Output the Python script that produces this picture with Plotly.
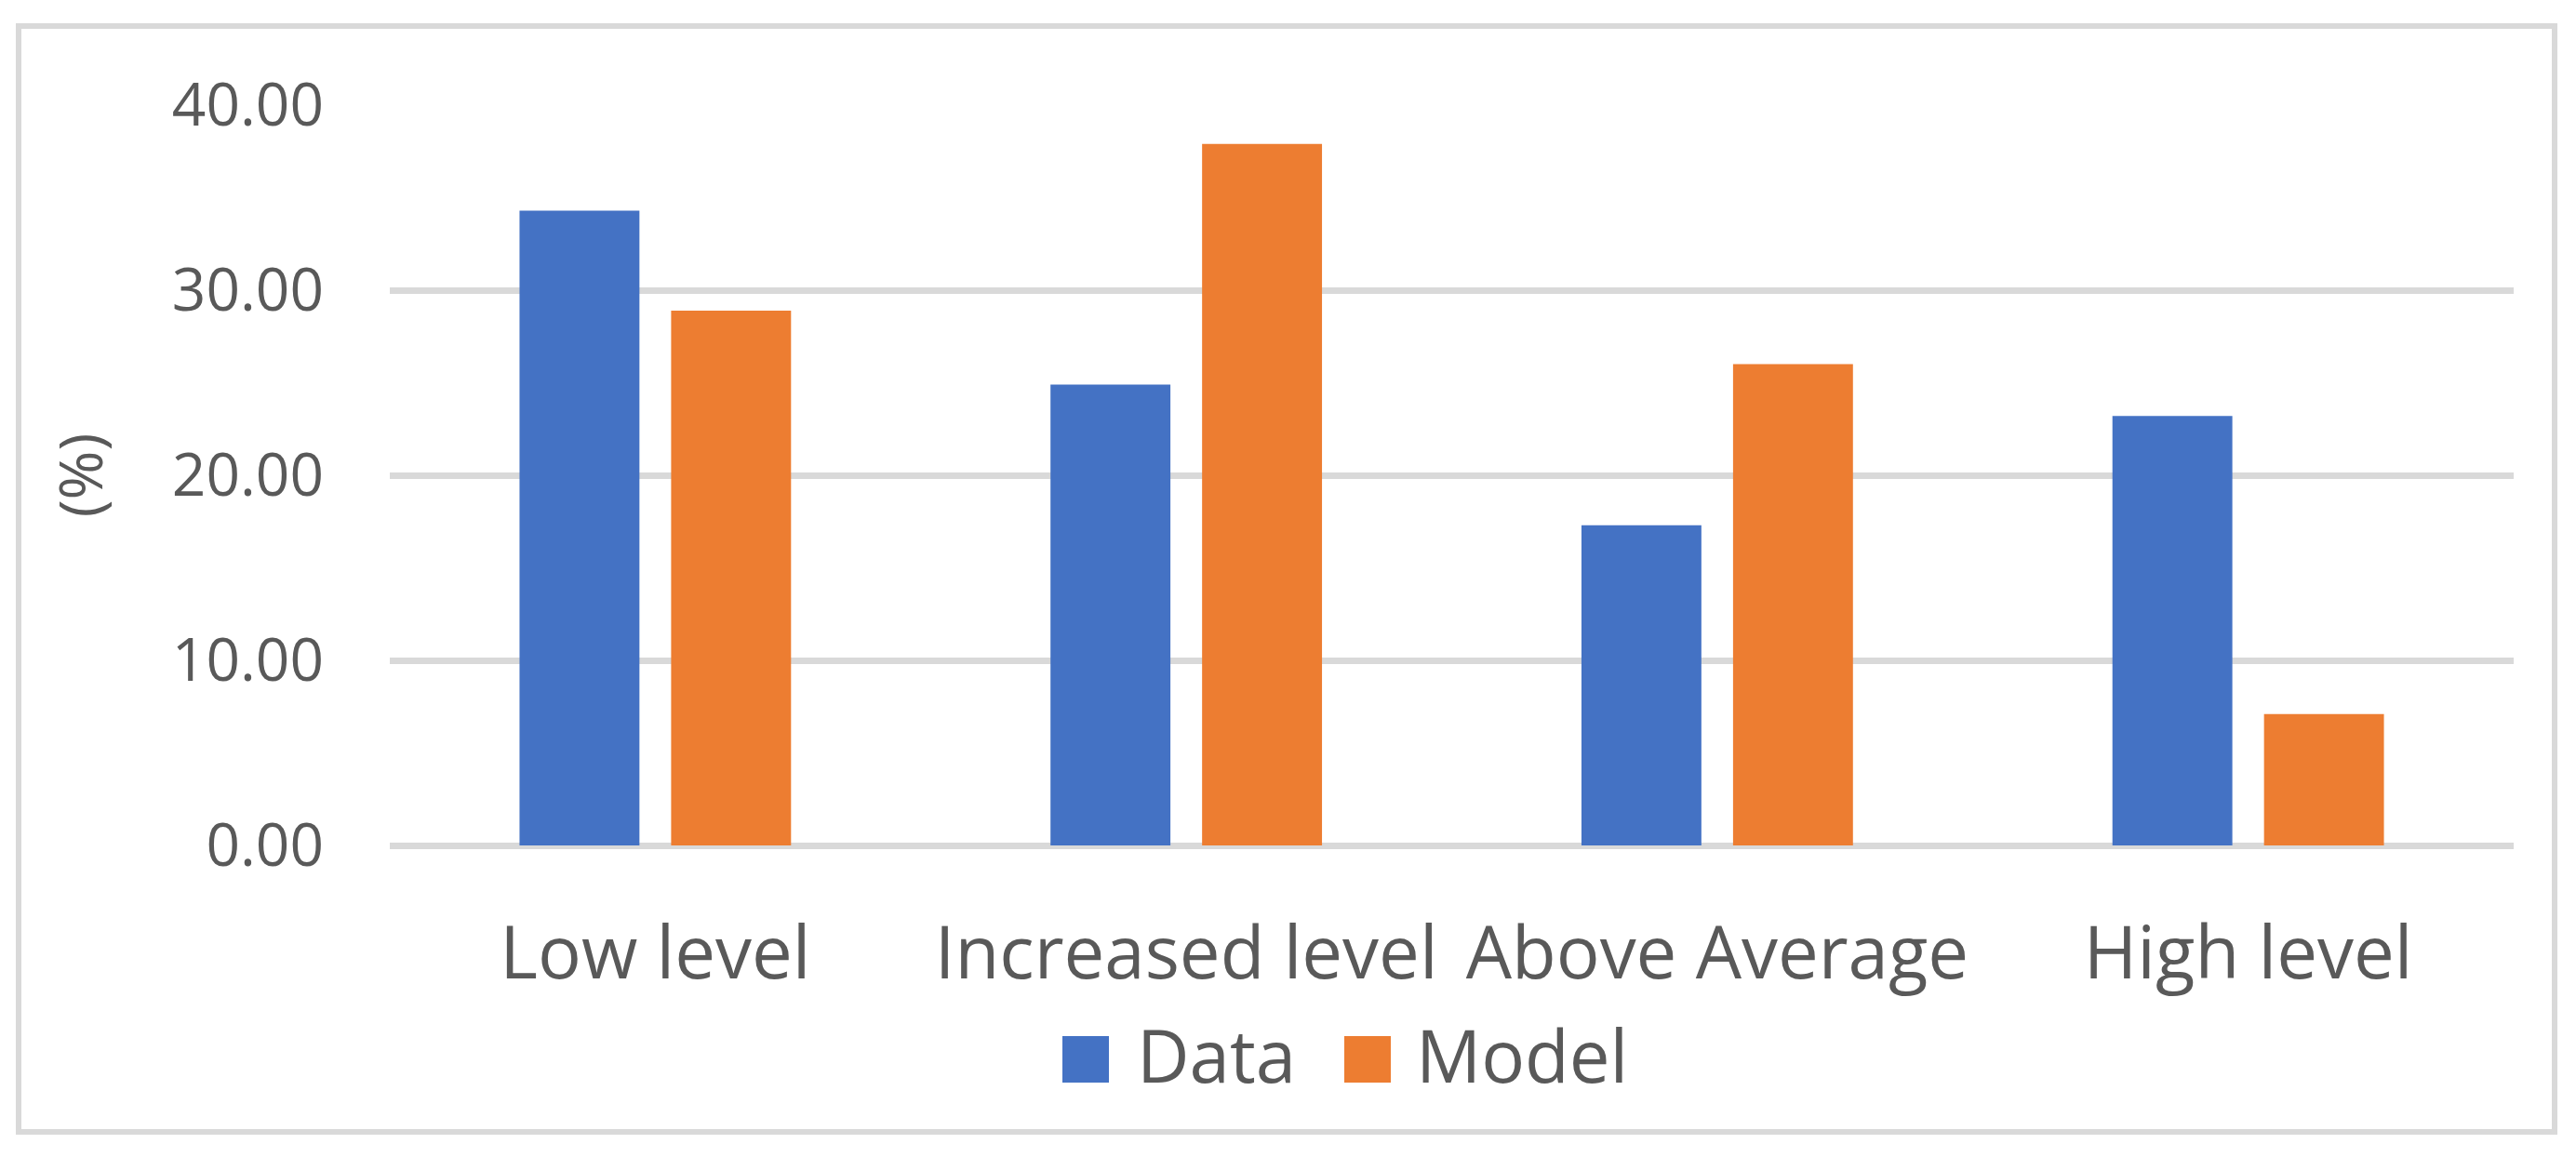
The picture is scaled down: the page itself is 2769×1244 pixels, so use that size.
import plotly.graph_objects as go

# ---- data ----
categories = ["Low level", "Increased level", "Above Average", "High level"]
series_names = ["Data", "Model"]
data_values = [34.3, 24.9, 17.3, 23.2]
model_values = [28.9, 37.9, 26.0, 7.1]
y_tick_values = [0, 10, 20, 30, 40]
y_tick_labels = ["0.00", "10.00", "20.00", "30.00", "40.00"]
y_title = "(%)"

# ---- style ----
W, H = 2769, 1244
L, R, T, B = 419, 67, 113, 335
BLUE = "#4472C4"
ORANGE = "#ED7D31"
GRID = "#D9D9D9"
TEXT = "#595959"
FONT = "Open Sans"

PW = W - L - R
PH = H - T - B


def px_x(x):
    return (x - L) / PW


def px_y(y):
    return (H - B - y) / PH


fig = go.Figure()
fig.add_trace(go.Bar(x=categories, y=data_values, name=series_names[0],
                     marker=dict(color=BLUE, line=dict(width=0)), showlegend=False))
fig.add_trace(go.Bar(x=categories, y=model_values, name=series_names[1],
                     marker=dict(color=ORANGE, line=dict(width=0)), showlegend=False))

shapes = [
    # chart frame
    dict(type="rect", xref="paper", yref="paper",
         x0=px_x(20), x1=px_x(2746), y0=px_y(1217), y1=px_y(28),
         line=dict(color=GRID, width=6), fillcolor="rgba(0,0,0,0)", layer="below"),
]
annotations = []

# custom legend (large square swatches like the original)
legend_items = [
    (series_names[0], BLUE, 1142, 1220),
    (series_names[1], ORANGE, 1445, 1520),
]
for name, color, sx, tx in legend_items:
    shapes.append(dict(type="rect", xref="paper", yref="paper",
                       x0=px_x(sx), x1=px_x(sx + 50), y0=px_y(1164), y1=px_y(1114),
                       line=dict(width=0), fillcolor=color))
    annotations.append(dict(xref="paper", yref="paper", x=px_x(tx), y=px_y(1134),
                            xanchor="left", yanchor="middle", showarrow=False,
                            text=name, font=dict(family=FONT, size=78, color=TEXT)))

fig.update_layout(
    width=W, height=H, autosize=False,
    margin=dict(l=L, r=R, t=T, b=B, pad=0),
    paper_bgcolor="white", plot_bgcolor="white",
    barmode="group", bargap=0.429, bargroupgap=0.209,
    font=dict(family=FONT, color=TEXT),
    shapes=shapes, annotations=annotations,
    showlegend=False,
)
fig.update_xaxes(
    showgrid=False, showline=False, zeroline=False, ticks="",
    tickfont=dict(family=FONT, size=78, color=TEXT),
    ticklabelstandoff=64,
)
fig.update_yaxes(
    range=[0, 40], tickvals=y_tick_values, ticktext=y_tick_labels,
    showgrid=True, gridcolor=GRID, gridwidth=7,
    zeroline=True, zerolinecolor=GRID, zerolinewidth=7,
    showline=False, ticks="",
    tickfont=dict(family=FONT, size=64, color=TEXT),
    ticklabelstandoff=70,
    title=dict(text=y_title, font=dict(family=FONT, size=64, color=TEXT), standoff=53),
)

fig.write_html("out.html", config={"displayModeBar": False},
               post_script="document.body.style.margin='0';document.body.style.overflow='hidden';")
